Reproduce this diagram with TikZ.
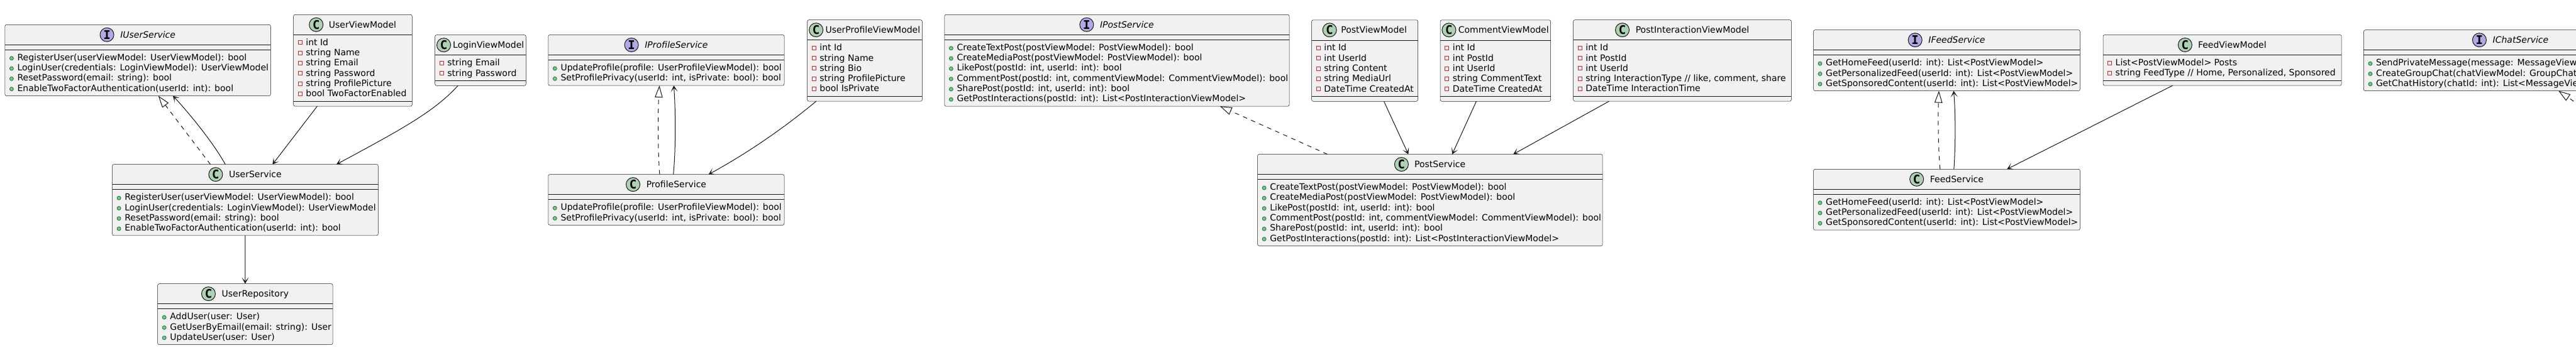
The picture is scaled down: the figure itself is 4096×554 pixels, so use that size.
\documentclass[tikz,border=0pt]{standalone}
\usepackage{fontspec}
\setmainfont{DejaVu Sans}
\newfontfamily\umliconfont{DejaVu Sans Mono}
\usetikzlibrary{arrows.meta,calc}
\definecolor{boxfill}{HTML}{F1F1F1}
\definecolor{boxline}{HTML}{181818}
\definecolor{cfill}{HTML}{ADD1B2}
\definecolor{ifill}{HTML}{B4A7E5}
\definecolor{privred}{HTML}{C82930}
\definecolor{pubfill}{HTML}{84BE84}
\definecolor{publine}{HTML}{038048}
\newcommand\umlfont{\fontsize{14pt}{16.3pt}\selectfont}
\newcount\umlcnt
\newcommand\umlcountlist[2]{%
  \global\umlcnt=0\relax
  \if\relax\detokenize{#1}\relax\else
    \foreach \umlq in {#1}{\global\advance\umlcnt by 1\relax}%
  \fi
  \edef#2{\the\umlcnt}}
\tikzset{
  umlrect/.style={draw=boxline, fill=boxfill, line width=0.5pt, rounded corners=2.5pt, inner sep=0pt, outer sep=0pt},
  sepline/.style={draw=boxline, line width=0.5pt},
  rowtext/.style={anchor=base west, inner sep=0pt, font=\umlfont, text=black},
  assoc/.style={draw=boxline, line width=1pt, -{Stealth[length=10pt,width=11pt,inset=6pt]}},
  real/.style={draw=boxline, line width=1pt, dash pattern=on 7pt off 7pt, -{Triangle[open,length=19pt,width=12.5pt]}}
}
% #1 name, #2 kind C/I, #3 left, #4 top, #5 width, #6 gap, #7 title, #8 fields, #9 methods
\newcommand\umlbox[9]{%
  \umlcountlist{#8}\umlnF
  \umlcountlist{#9}\umlnM
  \pgfmathsetmacro\umlhF{8+16.3*\umlnF}%
  \pgfmathsetmacro\umlhM{8+16.3*\umlnM}%
  \pgfmathsetmacro\umlhT{32+\umlhF+\umlhM}%
  \pgfmathsetmacro\umlyA{#4+32}%
  \pgfmathsetmacro\umlyB{\umlyA+\umlhF}%
  \pgfmathsetmacro\umlxR{#3+#5}%
  \node[umlrect, minimum width=#5pt, minimum height=\umlhT*1pt, anchor=north west] (#1) at (#3,#4) {};
  \draw[sepline] (#3,\umlyA) -- (\umlxR,\umlyA);
  \draw[sepline] (#3,\umlyB) -- (\umlxR,\umlyB);
  \if#2I\def\umlicfill{ifill}\def\umlttf{\itshape}\else\def\umlicfill{cfill}\def\umlttf{}\fi
  \pgfmathsetmacro\umltcx{#3+#5/2+#6/2+5.5}%
  \node[anchor=base, inner sep=0pt, font=\umlfont\umlttf, text=black] (#1-title) at (\umltcx,#4+21) {#7};
  \filldraw[fill=\umlicfill, draw=boxline, line width=1pt] ($(#1-title.base west)+(-#6,-5)$) circle[radius=11pt];
  \node[inner sep=0pt, font=\umliconfont\bfseries\fontsize{19pt}{19pt}\selectfont] at ($(#1-title.base west)+(-#6,-5)$) {#2};
  \if\relax\detokenize{#8}\relax\else
  \foreach \umlrow [count=\umli] in {#8}{%
    \pgfmathsetmacro\umlyb{\umlyA+4+16.3*(\umli-1)+13}%
    \draw[privred, line width=0.8pt] (#3+7.5,\umlyb-7.5) rectangle (#3+13.5,\umlyb-1.5);
    \node[rowtext] at (#3+19.5,\umlyb) {\umlrow};
  }\fi
  \if\relax\detokenize{#9}\relax\else
  \foreach \umlrow [count=\umli] in {#9}{%
    \pgfmathsetmacro\umlyb{\umlyB+4+16.3*(\umli-1)+13}%
    \filldraw[fill=pubfill, draw=publine, line width=0.8pt] (#3+10.5,\umlyb-3.5) circle[radius=3pt];
    \node[rowtext] at (#3+19.5,\umlyb) {\umlrow};
  }\fi
}
\begin{document}
\begin{tikzpicture}[x=1pt,y=-1pt]
\useasboundingbox (0,0) rectangle (4096,554);
\fill[white] (0,0) rectangle (4096,554);
\clip (0,0) rectangle (4096,554);

\umlbox{IUserService}{I}{7.9}{39.3}{422.5}{21}{IUserService}{}{{RegisterUser(userViewModel: UserViewModel): bool},{LoginUser(credentials: LoginViewModel): UserViewModel},{ResetPassword(email: string): bool},{EnableTwoFactorAuthentication(userId: int): bool}}
\umlbox{UserViewModel}{C}{466.7}{23.3}{188.6}{20}{UserViewModel}{int Id,string Name,string Email,string Password,string ProfilePicture,bool TwoFactorEnabled}{}
\umlbox{LoginViewModel}{C}{691.7}{55.7}{144.6}{14.5}{LoginViewModel}{string Email,string Password}{}
\umlbox{UserService}{C}{178.6}{261.7}{422.7}{21}{UserService}{}{{RegisterUser(userViewModel: UserViewModel): bool},{LoginUser(credentials: LoginViewModel): UserViewModel},{ResetPassword(email: string): bool},{EnableTwoFactorAuthentication(userId: int): bool}}
\umlbox{UserRepository}{C}{250.7}{451.7}{278.3}{21}{UserRepository}{}{{AddUser(user: User)},{GetUserByEmail(email: string): User},{UpdateUser(user: User)}}
\umlbox{IProfileService}{I}{871.8}{55.5}{375.2}{21}{IProfileService}{}{{UpdateProfile(profile: UserProfileViewModel): bool},{SetProfilePrivacy(userId: int, isPrivate: bool): bool}}
\umlbox{ProfileService}{C}{871.8}{277.7}{375.2}{21}{ProfileService}{}{{UpdateProfile(profile: UserProfileViewModel): bool},{SetProfilePrivacy(userId: int, isPrivate: bool): bool}}
\umlbox{UserProfileViewModel}{C}{1283.7}{31.7}{182.6}{14.7}{UserProfileViewModel}{int Id,string Name,string Bio,string ProfilePicture,bool IsPrivate}{}
\umlbox{IPostService}{I}{1501.8}{23.3}{548.2}{21}{IPostService}{}{{CreateTextPost(postViewModel: PostViewModel): bool},{CreateMediaPost(postViewModel: PostViewModel): bool},{LikePost(postId: int, userId: int): bool},{CommentPost(postId: int, commentViewModel: CommentViewModel): bool},{SharePost(postId: int, userId: int): bool},{GetPostInteractions(postId: int): List<PostInteractionViewModel>}}
\umlbox{PostViewModel}{C}{2085.7}{31.8}{168.8}{18}{PostViewModel}{int Id,int UserId,string Content,string MediaUrl,DateTime CreatedAt}{}
\umlbox{CommentViewModel}{C}{2290.2}{31.8}{175.4}{14.7}{CommentViewModel}{int Id,int PostId,int UserId,string CommentText,DateTime CreatedAt}{}
\umlbox{PostInteractionViewModel}{C}{2501.7}{31.7}{346.6}{21}{PostInteractionViewModel}{int Id,int PostId,int UserId,{string InteractionType // like, comment, share},DateTime InteractionTime}{}
\umlbox{PostService}{C}{1999.6}{245.6}{548.6}{20.5}{PostService}{}{{CreateTextPost(postViewModel: PostViewModel): bool},{CreateMediaPost(postViewModel: PostViewModel): bool},{LikePost(postId: int, userId: int): bool},{CommentPost(postId: int, commentViewModel: CommentViewModel): bool},{SharePost(postId: int, userId: int): bool},{GetPostInteractions(postId: int): List<PostInteractionViewModel>}}
\umlbox{IFeedService}{I}{2883.5}{47.7}{423.8}{21}{IFeedService}{}{{GetHomeFeed(userId: int): List<PostViewModel>},{GetPersonalizedFeed(userId: int): List<PostViewModel>},{GetSponsoredContent(userId: int): List<PostViewModel>}}
\umlbox{FeedService}{C}{2883.5}{269.3}{423.8}{21}{FeedService}{}{{GetHomeFeed(userId: int): List<PostViewModel>},{GetPersonalizedFeed(userId: int): List<PostViewModel>},{GetSponsoredContent(userId: int): List<PostViewModel>}}
\umlbox{FeedViewModel}{C}{3344}{55.5}{379.2}{20.5}{FeedViewModel}{{List<PostViewModel> Posts},{string FeedType // Home, Personalized, Sponsored}}{}
\umlbox{IChatService}{I}{3758.4}{47.7}{467}{21}{IChatService}{}{{SendPrivateMessage(message: MessageViewModel): bool},{CreateGroupChat(chatViewModel: GroupChatViewModel): bool},{GetChatHistory(chatId: int): List<MessageViewModel>}}

% user group
\draw[assoc] (UserService.south) -- (UserRepository.north);
\draw[assoc] ($(UserViewModel.south west)!0.2!(UserViewModel.south east)$) -- ($(UserService.north west)!0.6026!(UserService.north east)$);
\draw[assoc] ($(LoginViewModel.south west)!0.253!(LoginViewModel.south east)$) .. controls (690,178) and (640,205) .. ($(UserService.north west)!0.843!(UserService.north east)$);
\draw[real] ($(UserService.north west)!0.369!(UserService.north east)$) -- ($(IUserService.south west)!0.577!(IUserService.south east)$);
\draw[assoc] ($(UserService.north west)!0.425!(UserService.north east)$) .. controls (338,225) and (297,176) .. ($(IUserService.south west)!0.632!(IUserService.south east)$);
% profile group
\draw[real] ($(ProfileService.north west)!0.472!(ProfileService.north east)$) .. controls (1046,240) and (1046,180) .. ($(IProfileService.south west)!0.471!(IProfileService.south east)$);
\draw[assoc] ($(ProfileService.north west)!0.530!(ProfileService.north east)$) .. controls (1074.5,240) and (1074.5,180) .. ($(IProfileService.south west)!0.532!(IProfileService.south east)$);
\draw[assoc] ($(UserProfileViewModel.south west)!0.077!(UserProfileViewModel.south east)$) .. controls (1244.4,205.5) and (1187.4,244.4) .. ($(ProfileService.north west)!0.679!(ProfileService.north east)$);
% post group
\draw[real] ($(PostService.north west)!0.2025!(PostService.north east)$) -- ($(IPostService.south west)!0.799!(IPostService.south east)$);
\draw[assoc] ($(PostViewModel.south west)!0.68!(PostViewModel.south east)$) -- ($(PostService.north west)!0.437!(PostService.north east)$);
\draw[assoc] ($(CommentViewModel.south west)!0.326!(CommentViewModel.south east)$) -- ($(PostService.north west)!0.564!(PostService.north east)$);
\draw[assoc] ($(PostInteractionViewModel.south west)!0.164!(PostInteractionViewModel.south east)$) -- ($(PostService.north west)!0.741!(PostService.north east)$);
% feed group
\draw[real] ($(FeedService.north west)!0.475!(FeedService.north east)$) .. controls (3081.5,230) and (3081.5,180) .. ($(IFeedService.south west)!0.4707!(IFeedService.south east)$);
\draw[assoc] ($(FeedService.north west)!0.527!(FeedService.north east)$) .. controls (3109.5,230) and (3109.5,180) .. ($(IFeedService.south west)!0.526!(IFeedService.south east)$);
\draw[assoc] ($(FeedViewModel.south west)!0.292!(FeedViewModel.south east)$) -- ($(FeedService.north west)!0.726!(FeedService.north east)$);
% chat
\coordinate (chatfree) at (4150,201);
\draw[real] (chatfree) -- ($(IChatService.south west)!0.663!(IChatService.south east)$);
\end{tikzpicture}
\end{document}
